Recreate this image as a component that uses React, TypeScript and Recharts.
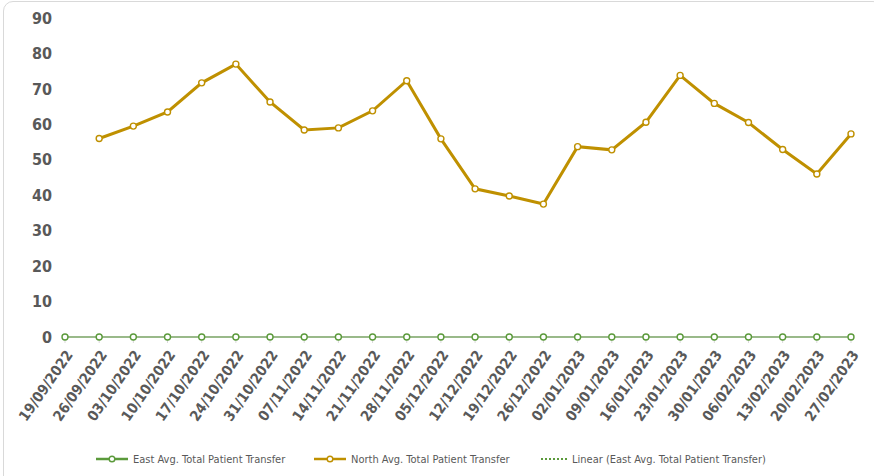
import React from 'react';
import { LineChart, Line, XAxis, YAxis, Legend } from 'recharts';

// Weekly reporting dates (categories)
const weeks = [
  '19/09/2022', '26/09/2022', '03/10/2022', '10/10/2022', '17/10/2022', '24/10/2022',
  '31/10/2022', '07/11/2022', '14/11/2022', '21/11/2022', '28/11/2022', '05/12/2022',
  '12/12/2022', '19/12/2022', '26/12/2022', '02/01/2023', '09/01/2023', '16/01/2023',
  '23/01/2023', '30/01/2023', '06/02/2023', '13/02/2023', '20/02/2023', '27/02/2023',
];

// East region average total patient transfer
const eastAvg = [0, 0, 0, 0, 0, 0, 0, 0, 0, 0, 0, 0, 0, 0, 0, 0, 0, 0, 0, 0, 0, 0, 0, 0];

// North region average total patient transfer (no figure for the first week)
const northAvg = [
  null, 56, 59.5, 63.5, 71.7, 77, 66.3, 58.4, 59, 63.8, 72.3, 55.9,
  41.8, 39.8, 37.5, 53.7, 52.8, 60.6, 73.8, 65.9, 60.5, 52.9, 46, 57.3,
];

const yTicks = [0, 10, 20, 30, 40, 50, 60, 70, 80, 90];

const EAST_COLOR = '#5B9A3B';
const NORTH_COLOR = '#BF9000';
const TEXT_COLOR = '#595959';
const FONT = '"DejaVu Sans Condensed", "Liberation Sans Narrow", Arial, sans-serif';

// Least-squares linear trend of the East series
function linearTrend(values: number[]): number[] {
  const n = values.length;
  const xs = values.map((_, i) => i + 1);
  const mx = xs.reduce((a, b) => a + b, 0) / n;
  const my = values.reduce((a, b) => a + b, 0) / n;
  let num = 0;
  let den = 0;
  xs.forEach((x, i) => {
    num += (x - mx) * (values[i] - my);
    den += (x - mx) * (x - mx);
  });
  const slope = den === 0 ? 0 : num / den;
  const intercept = my - slope * mx;
  return xs.map((x) => intercept + slope * x);
}

const eastTrend = linearTrend(eastAvg);

const data = weeks.map((week, i) => ({
  week,
  east: eastAvg[i],
  north: northAvg[i],
  eastTrend: eastTrend[i],
}));

const legendItems = [
  { label: 'East Avg. Total Patient Transfer', color: EAST_COLOR, kind: 'marker', left: 95 },
  { label: 'North Avg. Total Patient Transfer', color: NORTH_COLOR, kind: 'marker', left: 313 },
  { label: 'Linear (East Avg. Total Patient Transfer)', color: EAST_COLOR, kind: 'dotted', left: 540 },
];

function LegendContent() {
  return (
    <div style={{ position: 'relative', width: 874, height: 20 }}>
      {legendItems.map((item) => (
        <div
          key={item.label}
          style={{
            position: 'absolute',
            left: item.left,
            top: 0,
            height: 20,
            display: 'flex',
            alignItems: 'center',
            whiteSpace: 'nowrap',
          }}
        >
          <svg width={item.kind === 'marker' ? 34 : 28} height={10} style={{ marginRight: 4 }}>
            {item.kind === 'marker' ? (
              <>
                <line x1={1} y1={5} x2={33} y2={5} stroke={item.color} strokeWidth={2.5} />
                <circle cx={17} cy={5} r={2.8} fill="#fff" stroke={item.color} strokeWidth={1.4} />
              </>
            ) : (
              <line x1={1} y1={5} x2={27} y2={5} stroke={item.color} strokeWidth={2} strokeDasharray="2 2" />
            )}
          </svg>
          <span style={{ fontFamily: FONT, fontSize: 11, color: TEXT_COLOR }}>{item.label}</span>
        </div>
      ))}
    </div>
  );
}

export default function App() {
  return (
    <div
      style={{
        position: 'fixed',
        left: 0,
        top: 0,
        width: 874,
        height: 476,
        overflow: 'hidden',
        background: '#fff',
      }}
    >
      <div
        style={{
          position: 'absolute',
          left: 3,
          top: 1,
          width: 880,
          height: 520,
          border: '1px solid #d9d9d9',
          borderRadius: 10,
          boxSizing: 'border-box',
        }}
      />
      <LineChart
        width={874}
        height={476}
        data={data}
        margin={{ top: 18, right: 23, left: 25, bottom: 7 }}
        style={{ position: 'absolute', left: 0, top: 0 }}
      >
        <XAxis
          dataKey="week"
          interval={0}
          height={112}
          angle={-55}
          textAnchor="end"
          axisLine={{ stroke: '#d9d9d9' }}
          tickLine={{ stroke: '#d9d9d9' }}
          tickSize={6}
          tickMargin={6}
          tick={{ fill: TEXT_COLOR, fontSize: 14.5, fontWeight: 700, fontFamily: FONT }}
        />
        <YAxis
          width={40}
          domain={[0, 90]}
          ticks={yTicks}
          axisLine={false}
          tickLine={false}
          tickMargin={7}
          tick={{ fill: TEXT_COLOR, fontSize: 16, fontWeight: 700, fontFamily: FONT }}
        />
        <Legend verticalAlign="bottom" content={<LegendContent />} wrapperStyle={{ left: 0, width: 874 }} />
        <Line
          dataKey="eastTrend"
          stroke={EAST_COLOR}
          strokeWidth={2}
          strokeDasharray="2 2"
          dot={false}
          activeDot={false}
          legendType="none"
          isAnimationActive={false}
        />
        <Line
          dataKey="east"
          stroke={EAST_COLOR}
          strokeWidth={2}
          dot={{ r: 3, fill: '#fff', stroke: EAST_COLOR, strokeWidth: 1.4 }}
          isAnimationActive={false}
        />
        <Line
          dataKey="north"
          stroke={NORTH_COLOR}
          strokeWidth={3}
          connectNulls={false}
          dot={{ r: 3, fill: '#fff', stroke: NORTH_COLOR, strokeWidth: 1.4 }}
          isAnimationActive={false}
        />
      </LineChart>
    </div>
  );
}
